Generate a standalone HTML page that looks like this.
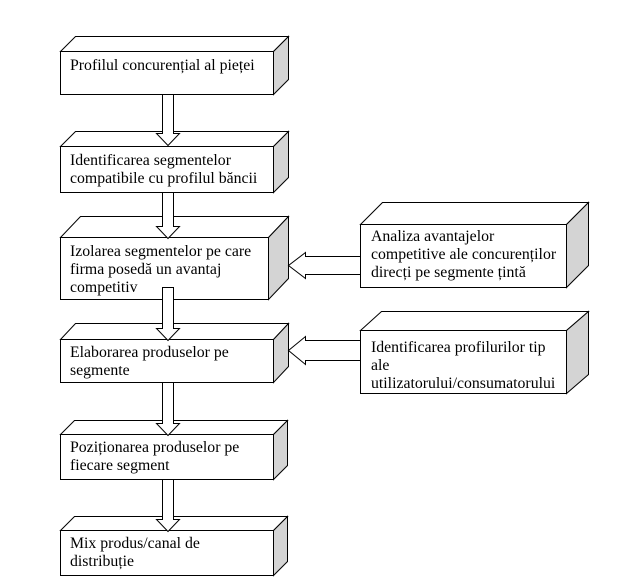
<!DOCTYPE html>
<html><head><meta charset="utf-8"><style>
html,body{margin:0;padding:0;background:#fff;}
svg{display:block;}
text{font-family:"Liberation Serif",serif;font-size:15.8px;fill:#000;}
</style></head><body>
<svg width="624" height="588" xmlns="http://www.w3.org/2000/svg">
<g stroke="#000" stroke-width="1" fill="#fff">
<rect x="60.5" y="51.5" width="213" height="43"/>
<polygon points="60.5,51.5 75.5,36.5 288.5,36.5 273.5,51.5"/>
<polygon points="273.5,51.5 288.5,36.5 288.5,79.5 273.5,94.5" fill="#d4d4d4"/>
<rect x="60.5" y="146.5" width="213" height="46"/>
<polygon points="60.5,146.5 75.5,131.5 288.5,131.5 273.5,146.5"/>
<polygon points="273.5,146.5 288.5,131.5 288.5,177.5 273.5,192.5" fill="#d4d4d4"/>
<rect x="60.5" y="237.5" width="208" height="62"/>
<polygon points="60.5,237.5 80.5,216.5 288.5,216.5 268.5,237.5"/>
<polygon points="268.5,237.5 288.5,216.5 288.5,278.5 268.5,299.5" fill="#d4d4d4"/>
<rect x="60.5" y="339.5" width="213" height="43"/>
<polygon points="60.5,339.5 75.5,323.5 288.5,323.5 273.5,339.5"/>
<polygon points="273.5,339.5 288.5,323.5 288.5,366.5 273.5,382.5" fill="#d4d4d4"/>
<rect x="60.5" y="434.5" width="213" height="45"/>
<polygon points="60.5,434.5 74.5,420.5 287.5,420.5 273.5,434.5"/>
<polygon points="273.5,434.5 287.5,420.5 287.5,465.5 273.5,479.5" fill="#d4d4d4"/>
<rect x="60.5" y="530.5" width="213" height="45"/>
<polygon points="60.5,530.5 74.5,516.5 287.5,516.5 273.5,530.5"/>
<polygon points="273.5,530.5 287.5,516.5 287.5,561.5 273.5,575.5" fill="#d4d4d4"/>
<rect x="360.5" y="224.5" width="206" height="63"/>
<polygon points="360.5,224.5 382.5,202.5 588.5,202.5 566.5,224.5"/>
<polygon points="566.5,224.5 588.5,202.5 588.5,265.5 566.5,287.5" fill="#d4d4d4"/>
<rect x="360.5" y="330.5" width="206" height="63"/>
<polygon points="360.5,330.5 381.5,311.5 588.5,311.5 566.5,330.5"/>
<polygon points="566.5,330.5 588.5,311.5 588.5,374.5 566.5,393.5" fill="#d4d4d4"/>
<polygon points="162.5,94.5 173.5,94.5 173.5,133.5 179.5,133.5 168,145.5 156.5,133.5 162.5,133.5"/>
<polygon points="162.5,192.5 173.5,192.5 173.5,226.5 179.5,226.5 168,238.5 156.5,226.5 162.5,226.5"/>
<polygon points="162.5,287.5 173.5,287.5 173.5,328.5 179.5,328.5 168,340.5 156.5,328.5 162.5,328.5"/>
<polygon points="162.5,382.5 173.5,382.5 173.5,423.5 179.5,423.5 168,435.5 156.5,423.5 162.5,423.5"/>
<polygon points="162.5,479.5 173.5,479.5 173.5,519.5 179.5,519.5 168,531.5 156.5,519.5 162.5,519.5"/>
<polygon points="360.5,256.5 305.5,256.5 305.5,252.5 288.5,265.5 305.5,278.5 305.5,274.5 360.5,274.5"/>
<polygon points="360.5,340.5 305.5,340.5 305.5,336.5 288.5,350.5 305.5,364.5 305.5,360.5 360.5,360.5"/>
</g>
<text x="70" y="70">Profilul concurențial al pieței</text>
<text x="70" y="165">Identificarea segmentelor</text>
<text x="70" y="183">compatibile cu profilul băncii</text>
<text x="70" y="256">Izolarea segmentelor pe care</text>
<text x="70" y="274">firma posedă un avantaj</text>
<text x="70" y="292">competitiv</text>
<text x="70" y="357">Elaborarea produselor pe</text>
<text x="70" y="375">segmente</text>
<text x="70" y="452">Poziționarea produselor pe</text>
<text x="70" y="470">fiecare segment</text>
<text x="70" y="548">Mix produs/canal de</text>
<text x="70" y="566">distribuție</text>
<text x="371" y="241">Analiza avantajelor</text>
<text x="371" y="259">competitive ale concurenților</text>
<text x="371" y="277">direcți pe segmente țintă</text>
<text x="371" y="352">Identificarea profilurilor tip</text>
<text x="371" y="370">ale</text>
<text x="371" y="388">utilizatorului/consumatorului</text>
</svg>
</body></html>
